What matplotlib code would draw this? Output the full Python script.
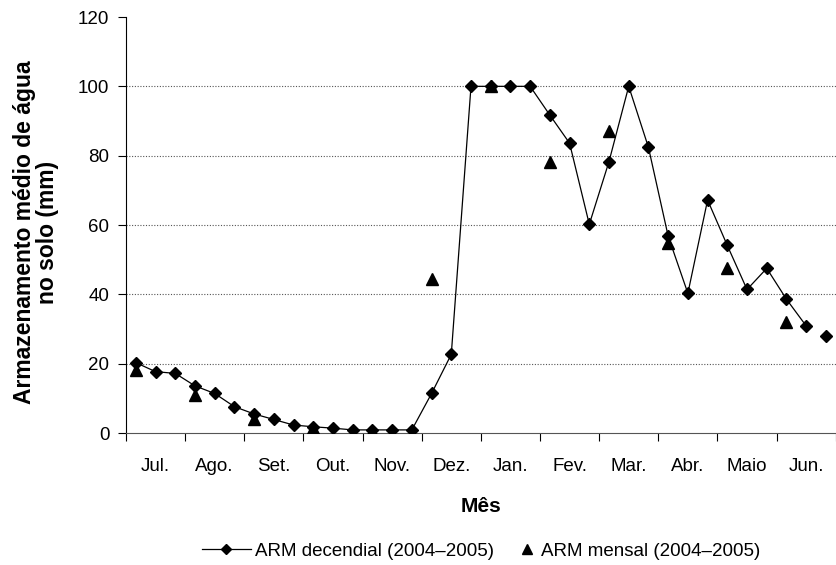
import numpy as np
import matplotlib.pyplot as plt
from matplotlib.lines import Line2D

plt.rcParams['font.family'] = ['Liberation Sans', 'DejaVu Sans']

months = ["Jul.", "Ago.", "Set.", "Out.", "Nov.", "Dez.", "Jan.", "Fev.", "Mar.", "Abr.", "Maio", "Jun."]

# ARM decendial: 3 values per month (Jul 2004 - Jun 2005)
arm_decendial = [20.3, 17.7, 17.2,
                 13.6, 11.4, 7.6,
                 5.5, 3.9, 2.3,
                 1.8, 1.4, 0.9,
                 0.9, 0.9, 0.9,
                 11.4, 22.7, 100,
                 100, 100, 100,
                 91.7, 83.6, 60.2,
                 78.3, 100, 82.4,
                 56.8, 40.3, 67.2,
                 54.1, 41.4, 47.5,
                 38.6, 30.9, 28.0]

# ARM mensal: one value per month, placed at first decade
arm_mensal = [18.2, 11.0, 4.0, 1.4, 0.6, 44.3, 100, 78.3, 87.1, 54.7, 47.5, 32.1]

x_dec = np.arange(len(arm_decendial)) + 0.5
x_mes = np.arange(len(arm_mensal)) * 3 + 0.5

fig = plt.figure(figsize=(8.37, 5.65), dpi=100)
ax = fig.add_axes([0.1505, 0.2336, 0.848, 0.7363])

# last decade is not joined by the line in the original
ax.plot(x_dec[:-1], arm_decendial[:-1], color='black', lw=0.9, zorder=2)
ax.plot(x_dec, arm_decendial, ls='none', marker='D', ms=5.8, color='black', zorder=3)
ax.plot(x_mes, arm_mensal, ls='none', marker='^', ms=8, color='black', zorder=4)

ax.set_xlim(0, 36)
ax.set_ylim(0, 120)
ax.set_yticks(range(0, 121, 20))
ax.set_xticks(np.arange(0, 37, 3))
ax.set_xticklabels([])
ax.set_xticks(np.arange(12) * 3 + 1.5, minor=True)
ax.set_xticklabels(months, minor=True)
ax.tick_params(axis='x', which='minor', length=0, pad=18, labelsize=13.5)
ax.tick_params(axis='x', which='major', length=6, width=0.8, direction='out')
ax.tick_params(axis='y', length=6, width=0.8, labelsize=13.5, pad=6)

for v in range(20, 101, 20):
    ax.axhline(v, color='#555555', lw=0.8, ls=(0, (1, 1.5)), zorder=1)

ax.spines['top'].set_visible(False)
ax.spines['right'].set_visible(False)
ax.spines['left'].set_linewidth(0.8)
ax.spines['bottom'].set_linewidth(0.8)
ax.spines['bottom'].set_color('#555555')

ax.set_xlabel("Mês", fontsize=15, fontweight='bold', labelpad=16)
ax.set_ylabel("Armazenamento médio de água\nno solo (mm)", fontsize=16.5, fontweight='bold',
              linespacing=1.0)
ax.yaxis.set_label_coords(-0.095, 0.483)

h_dec = Line2D([], [], color='black', lw=0.9, marker='D', ms=5.5)
h_mes = Line2D([], [], ls='none', color='black', marker='^', ms=6.5)
fig.legend([h_dec], ["ARM decendial (2004–2005)"], loc='center left',
           bbox_to_anchor=(0.2413, 0.024), frameon=False, fontsize=13.5,
           handlelength=2.6, handletextpad=0.25, borderpad=0, borderaxespad=0)
fig.legend([h_mes], ["ARM mensal (2004–2005)"], loc='center left',
           bbox_to_anchor=(0.619, 0.024), frameon=False, fontsize=13.5,
           handlelength=1.0, handletextpad=0.2, borderpad=0, borderaxespad=0)

fig.savefig("out.png", dpi=100)
